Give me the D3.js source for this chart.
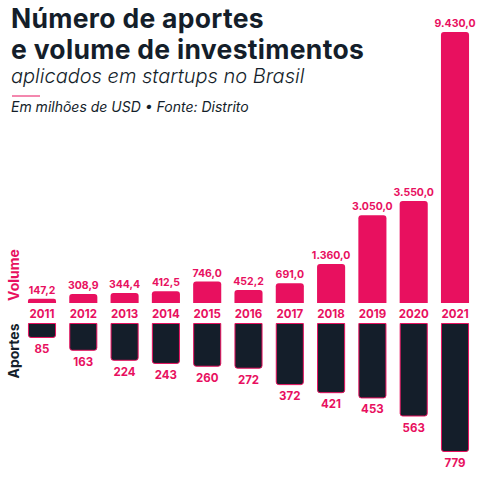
<!DOCTYPE html>
<html><head><meta charset="utf-8">
<script src="https://cdn.jsdelivr.net/npm/d3@7"></script>
<style>
html,body{margin:0;padding:0;background:#fff;}
svg{display:block;}
</style></head>
<body>
<script>
const years = ["2011","2012","2013","2014","2015","2016","2017","2018","2019","2020","2021"];
const volume = [147.2,308.9,344.4,412.5,746.0,452.2,691.0,1360.0,3050.0,3550.0,9430.0];
const aportes = [85,163,224,243,260,272,372,421,453,563,779];
const volumeLabels = ["147,2","308,9","344,4","412,5","746,0","452,2","691,0","1.360,0","3.050,0","3.550,0","9.430,0"];

const W=481,H=479;
const pink="#e8105f", dark="#141e2a";
const font="Inter, 'Open Sans', sans-serif";

const svg=d3.select("body").append("svg").attr("width",W).attr("height",H);

// titles
svg.append("text").attr("x",11).attr("y",28).attr("font-family",font).attr("font-weight",700)
  .attr("font-size",26.5).attr("letter-spacing",0.3).attr("fill",dark).text("Número de aportes");
svg.append("text").attr("x",11).attr("y",59).attr("font-family",font).attr("font-weight",700)
  .attr("font-size",26.5).attr("letter-spacing",0.3).attr("fill",dark).text("e volume de investimentos");
svg.append("text").attr("x",11).attr("y",82.5).attr("font-family",font).attr("font-weight",300)
  .attr("font-style","italic").attr("font-size",20).attr("fill",dark).text("aplicados em startups no Brasil");
svg.append("line").attr("x1",12).attr("x2",40).attr("y1",96).attr("y2",96).attr("stroke",pink).attr("stroke-width",1);
svg.append("text").attr("x",11).attr("y",112).attr("font-family",font).attr("font-weight",400)
  .attr("font-style","italic").attr("font-size",14).attr("fill",dark).text("Em milhões de USD • Fonte: Distrito");

const x=d3.scaleBand().domain(years).range([21.35,475.65]).paddingInner(0.32).paddingOuter(0.16);
const yV=d3.scaleLinear().domain([0,9430]).range([303,32]);
const yA=d3.scaleLinear().domain([0,779]).range([323.5,451.5]);

// volume bars
svg.append("g").selectAll("path").data(volume).join("path")
  .attr("fill",pink)
  .attr("d",(d,i)=>{
    const x0=x(years[i]), w=x.bandwidth(), y0=yV(d), y1=yV(0);
    const r=Math.min(3,(y1-y0)/2);
    return `M${x0},${y1}V${y0+r}Q${x0},${y0} ${x0+r},${y0}H${x0+w-r}Q${x0+w},${y0} ${x0+w},${y0+r}V${y1}Z`;
  });
svg.append("g").selectAll("text").data(volume).join("text")
  .attr("x",(d,i)=>x(years[i])+x.bandwidth()/2).attr("y",d=>yV(d)-5)
  .attr("text-anchor","middle").attr("font-family",font).attr("font-weight",700).attr("font-size",10.5)
  .attr("fill",pink).text((d,i)=>volumeLabels[i]);

// year labels
svg.append("g").selectAll("text").data(years).join("text")
  .attr("x",d=>x(d)+x.bandwidth()/2).attr("y",317.5)
  .attr("text-anchor","middle").attr("font-family",font).attr("font-weight",700).attr("font-size",11.5)
  .attr("fill",pink).text(d=>d);

// aportes bars
svg.append("g").selectAll("path").data(aportes).join("path")
  .attr("fill",dark).attr("stroke",pink).attr("stroke-width",1)
  .attr("d",(d,i)=>{
    const x0=x(years[i])+0.5, w=x.bandwidth()-1, y0=yA(0), y1=yA(d);
    const r=2.5;
    return `M${x0},${y0}V${y1-r}Q${x0},${y1} ${x0+r},${y1}H${x0+w-r}Q${x0+w},${y1} ${x0+w},${y1-r}V${y0}Z`;
  });
svg.append("g").selectAll("text").data(aportes).join("text")
  .attr("x",(d,i)=>x(years[i])+x.bandwidth()/2).attr("y",d=>yA(d)+15.5)
  .attr("text-anchor","middle").attr("font-family",font).attr("font-weight",700).attr("font-size",11.5)
  .attr("fill",pink).text(d=>d);

// side labels
svg.append("text").attr("transform","translate(19,275) rotate(-90)").attr("text-anchor","middle")
  .attr("font-family",font).attr("font-weight",700).attr("font-size",14).attr("fill",pink).text("Volume");
svg.append("text").attr("transform","translate(19,351) rotate(-90)").attr("text-anchor","middle")
  .attr("font-family",font).attr("font-weight",700).attr("font-size",14).attr("fill",dark).text("Aportes");
</script>
</body></html>
